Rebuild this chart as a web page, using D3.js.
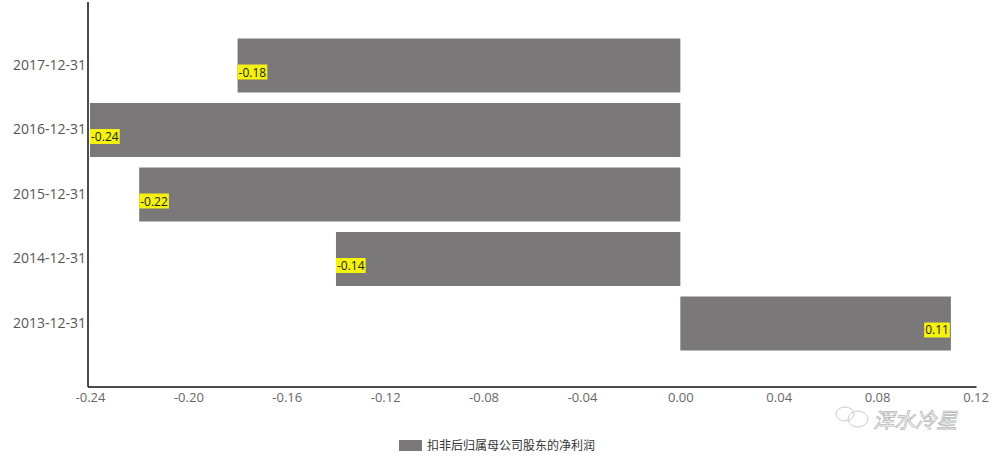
<!DOCTYPE html>
<html><head><meta charset="utf-8">
<script src="https://cdn.jsdelivr.net/npm/d3@7"></script>
<style>body{margin:0;background:#fff;}svg{display:block;font-family:"Open Sans","Noto Sans CJK SC",sans-serif;}</style>
</head><body><svg id="c" width="998" height="457"></svg>
<script>
const categories = ["2013-12-31","2014-12-31","2015-12-31","2016-12-31","2017-12-31"];
const values = [0.11,-0.14,-0.22,-0.24,-0.18];
const xTicks = [-0.24,-0.20,-0.16,-0.12,-0.08,-0.04,0.00,0.04,0.08,0.12];
const seriesName = "扣非后归属母公司股东的净利润";

(function(){
const svg = d3.select("#c");
const mLeft = 88, mRight = 975.5, mTop = 2, mBottom = 387;
const x = d3.scaleLinear().domain([-0.24,0.12]).range([mLeft+2,mRight]);
const y = d3.scaleBand().domain(categories).range([mBottom, mTop]).paddingInner(0.163).paddingOuter(0.566);
const barColor = "#7a7879";

svg.append("g").selectAll("rect").data(categories).join("rect")
  .attr("x",(d,i)=>x(Math.min(0,values[i])))
  .attr("y",d=>y(d))
  .attr("width",(d,i)=>Math.abs(x(values[i])-x(0)))
  .attr("height",y.bandwidth())
  .attr("fill",barColor);

const lg = svg.append("g").style("font-size","12px");
categories.forEach((d,i)=>{
  const v = values[i];
  const t = lg.append("text").text(v.toFixed(2))
    .attr("y", y(d)+y.bandwidth()/2+11)
    .attr("fill","#222");
  if (v<0) t.attr("x", x(v)+1).attr("text-anchor","start");
  else t.attr("x", x(v)-2).attr("text-anchor","end");
  const bb = t.node().getBBox();
  lg.insert("rect","text").attr("x",bb.x-1).attr("y",bb.y+1).attr("width",bb.width+2).attr("height",bb.height-2).attr("fill","#f5f20f");
});

const xa = svg.append("g").attr("transform",`translate(0,${mBottom})`)
  .call(d3.axisBottom(x).tickValues(xTicks).tickFormat(d=>d.toFixed(2)).tickSize(0).tickPadding(6));
xa.select(".domain").attr("stroke","#111").attr("stroke-width",1.5).attr("d",`M${mLeft},0H${mRight+1}`);
xa.selectAll("text").attr("fill","#666").style("font-size","13px").style("font-family","'Open Sans',sans-serif");

const ya = svg.append("g").attr("transform",`translate(${mLeft},0)`)
  .call(d3.axisLeft(y).tickSize(0).tickPadding(2));
ya.select(".domain").attr("stroke","#111").attr("stroke-width",1.5).attr("d",`M0,${mTop}V${mBottom}`);
ya.selectAll("text").attr("fill","#555").style("font-size","14px").style("font-family","'Open Sans',sans-serif");

const leg = svg.append("g");
leg.append("rect").attr("x",399).attr("y",440).attr("width",23).attr("height",11).attr("fill",barColor);
leg.append("text").attr("x",427).attr("y",450).text(seriesName).attr("fill","#333").style("font-size","12px");

const wm = svg.append("g").attr("opacity",0.6);
wm.append("ellipse").attr("cx",845).attr("cy",414).attr("rx",9).attr("ry",7).attr("fill","none").attr("stroke","#aaa");
wm.append("ellipse").attr("cx",858).attr("cy",419).attr("rx",10).attr("ry",8).attr("fill","none").attr("stroke","#aaa");
wm.append("text").attr("x",873).attr("y",428).text("浑水冷星").attr("fill","#fff").attr("stroke","#888").attr("stroke-width",0.8)
  .style("font-size","21px").style("font-style","italic");
})();
</script></body></html>
